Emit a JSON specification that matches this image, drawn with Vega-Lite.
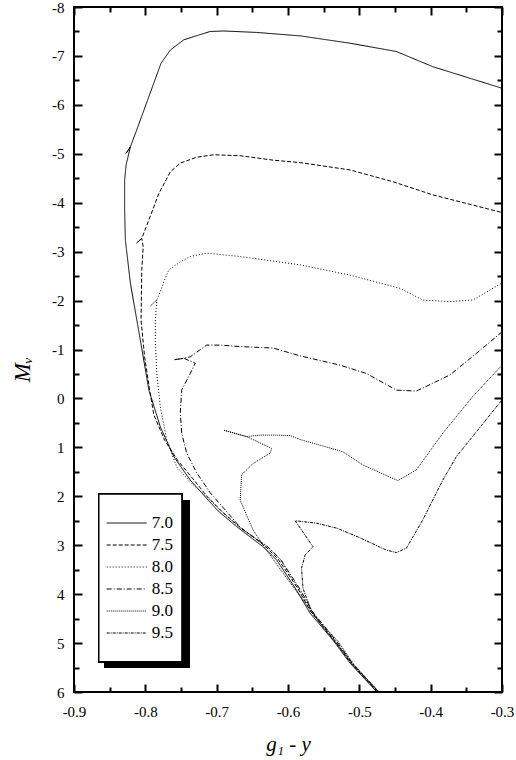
{
  "$schema": "https://vega.github.io/schema/vega-lite/v6.json",
  "width": 428,
  "height": 685,
  "autosize": "none",
  "padding": {"left": 74, "top": 7, "right": 14, "bottom": 68},
  "background": "white",
  "datasets": {
    "tracks": [
      {"age":"7.0","i":1,"x":-0.476,"y":5.99},{"age":"7.0","i":2,"x":-0.513,"y":5.41},{"age":"7.0","i":3,"x":-0.537,"y":4.94},{"age":"7.0","i":4,"x":-0.569,"y":4.39},{"age":"7.0","i":5,"x":-0.588,"y":3.92},{"age":"7.0","i":6,"x":-0.616,"y":3.30},{"age":"7.0","i":7,"x":-0.635,"y":3.03},{"age":"7.0","i":8,"x":-0.672,"y":2.62},{"age":"7.0","i":9,"x":-0.698,"y":2.30},{"age":"7.0","i":10,"x":-0.716,"y":2.01},{"age":"7.0","i":11,"x":-0.737,"y":1.67},{"age":"7.0","i":12,"x":-0.760,"y":1.19},{"age":"7.0","i":13,"x":-0.779,"y":0.58},{"age":"7.0","i":14,"x":-0.795,"y":-0.17},{"age":"7.0","i":15,"x":-0.807,"y":-1.19},{"age":"7.0","i":16,"x":-0.821,"y":-2.36},{"age":"7.0","i":17,"x":-0.828,"y":-3.24},{"age":"7.0","i":18,"x":-0.829,"y":-3.85},{"age":"7.0","i":19,"x":-0.829,"y":-4.46},{"age":"7.0","i":20,"x":-0.827,"y":-4.77},{"age":"7.0","i":21,"x":-0.821,"y":-5.14},{"age":"7.0","i":22,"x":-0.827,"y":-5.01},{"age":"7.0","i":23,"x":-0.821,"y":-5.14},{"age":"7.0","i":24,"x":-0.812,"y":-5.49},{"age":"7.0","i":25,"x":-0.778,"y":-6.85},{"age":"7.0","i":26,"x":-0.765,"y":-7.12},{"age":"7.0","i":27,"x":-0.746,"y":-7.33},{"age":"7.0","i":28,"x":-0.709,"y":-7.50},{"age":"7.0","i":29,"x":-0.690,"y":-7.51},{"age":"7.0","i":30,"x":-0.644,"y":-7.48},{"age":"7.0","i":31,"x":-0.583,"y":-7.41},{"age":"7.0","i":32,"x":-0.513,"y":-7.26},{"age":"7.0","i":33,"x":-0.448,"y":-7.09},{"age":"7.0","i":34,"x":-0.397,"y":-6.78},{"age":"7.0","i":35,"x":-0.300,"y":-6.34},

      {"age":"7.5","i":1,"x":-0.475,"y":5.99},{"age":"7.5","i":2,"x":-0.512,"y":5.41},{"age":"7.5","i":3,"x":-0.535,"y":4.94},{"age":"7.5","i":4,"x":-0.568,"y":4.36},{"age":"7.5","i":5,"x":-0.586,"y":3.89},{"age":"7.5","i":6,"x":-0.614,"y":3.28},{"age":"7.5","i":7,"x":-0.632,"y":3.02},{"age":"7.5","i":8,"x":-0.669,"y":2.61},{"age":"7.5","i":9,"x":-0.692,"y":2.32},{"age":"7.5","i":10,"x":-0.713,"y":2.01},{"age":"7.5","i":11,"x":-0.734,"y":1.63},{"age":"7.5","i":12,"x":-0.755,"y":1.26},{"age":"7.5","i":13,"x":-0.773,"y":0.85},{"age":"7.5","i":14,"x":-0.788,"y":0.34},{"age":"7.5","i":15,"x":-0.794,"y":-0.17},{"age":"7.5","i":16,"x":-0.801,"y":-0.85},{"age":"7.5","i":17,"x":-0.806,"y":-1.60},{"age":"7.5","i":18,"x":-0.805,"y":-2.63},{"age":"7.5","i":19,"x":-0.803,"y":-3.10},{"age":"7.5","i":20,"x":-0.805,"y":-3.27},{"age":"7.5","i":21,"x":-0.812,"y":-3.18},{"age":"7.5","i":22,"x":-0.805,"y":-3.27},{"age":"7.5","i":23,"x":-0.795,"y":-3.65},{"age":"7.5","i":24,"x":-0.781,"y":-4.19},{"age":"7.5","i":25,"x":-0.765,"y":-4.63},{"age":"7.5","i":26,"x":-0.751,"y":-4.81},{"age":"7.5","i":27,"x":-0.728,"y":-4.93},{"age":"7.5","i":28,"x":-0.704,"y":-4.98},{"age":"7.5","i":29,"x":-0.667,"y":-4.96},{"age":"7.5","i":30,"x":-0.621,"y":-4.87},{"age":"7.5","i":31,"x":-0.583,"y":-4.82},{"age":"7.5","i":32,"x":-0.513,"y":-4.67},{"age":"7.5","i":33,"x":-0.453,"y":-4.43},{"age":"7.5","i":34,"x":-0.397,"y":-4.16},{"age":"7.5","i":35,"x":-0.300,"y":-3.80},

      {"age":"8.0","i":1,"x":-0.474,"y":6.0},{"age":"8.0","i":2,"x":-0.510,"y":5.42},{"age":"8.0","i":3,"x":-0.534,"y":4.95},{"age":"8.0","i":4,"x":-0.566,"y":4.36},{"age":"8.0","i":5,"x":-0.585,"y":3.89},{"age":"8.0","i":6,"x":-0.611,"y":3.28},{"age":"8.0","i":7,"x":-0.629,"y":3.02},{"age":"8.0","i":8,"x":-0.667,"y":2.65},{"age":"8.0","i":9,"x":-0.691,"y":2.34},{"age":"8.0","i":10,"x":-0.709,"y":2.08},{"age":"8.0","i":11,"x":-0.734,"y":1.75},{"age":"8.0","i":12,"x":-0.756,"y":1.40},{"age":"8.0","i":13,"x":-0.770,"y":0.85},{"age":"8.0","i":14,"x":-0.779,"y":0.17},{"age":"8.0","i":15,"x":-0.784,"y":-0.52},{"age":"8.0","i":16,"x":-0.786,"y":-1.19},{"age":"8.0","i":17,"x":-0.786,"y":-1.60},{"age":"8.0","i":18,"x":-0.784,"y":-2.01},{"age":"8.0","i":19,"x":-0.793,"y":-1.89},{"age":"8.0","i":20,"x":-0.784,"y":-2.01},{"age":"8.0","i":21,"x":-0.779,"y":-2.18},{"age":"8.0","i":22,"x":-0.774,"y":-2.39},{"age":"8.0","i":23,"x":-0.767,"y":-2.63},{"age":"8.0","i":24,"x":-0.751,"y":-2.79},{"age":"8.0","i":25,"x":-0.737,"y":-2.90},{"age":"8.0","i":26,"x":-0.714,"y":-2.97},{"age":"8.0","i":27,"x":-0.667,"y":-2.90},{"age":"8.0","i":28,"x":-0.583,"y":-2.73},{"age":"8.0","i":29,"x":-0.513,"y":-2.52},{"age":"8.0","i":30,"x":-0.443,"y":-2.25},{"age":"8.0","i":31,"x":-0.411,"y":-2.01},{"age":"8.0","i":32,"x":-0.373,"y":-1.98},{"age":"8.0","i":33,"x":-0.341,"y":-2.01},{"age":"8.0","i":34,"x":-0.300,"y":-2.36},

      {"age":"8.5","i":1,"x":-0.473,"y":6.0},{"age":"8.5","i":2,"x":-0.509,"y":5.43},{"age":"8.5","i":3,"x":-0.532,"y":4.96},{"age":"8.5","i":4,"x":-0.565,"y":4.37},{"age":"8.5","i":5,"x":-0.583,"y":3.90},{"age":"8.5","i":6,"x":-0.610,"y":3.30},{"age":"8.5","i":7,"x":-0.628,"y":3.04},{"age":"8.5","i":8,"x":-0.666,"y":2.65},{"age":"8.5","i":9,"x":-0.688,"y":2.28},{"age":"8.5","i":10,"x":-0.709,"y":1.93},{"age":"8.5","i":11,"x":-0.728,"y":1.52},{"age":"8.5","i":12,"x":-0.742,"y":1.12},{"age":"8.5","i":13,"x":-0.749,"y":0.71},{"age":"8.5","i":14,"x":-0.751,"y":0.30},{"age":"8.5","i":15,"x":-0.749,"y":-0.17},{"age":"8.5","i":16,"x":-0.737,"y":-0.51},{"age":"8.5","i":17,"x":-0.730,"y":-0.72},{"age":"8.5","i":18,"x":-0.746,"y":-0.82},{"age":"8.5","i":19,"x":-0.760,"y":-0.79},{"age":"8.5","i":20,"x":-0.746,"y":-0.82},{"age":"8.5","i":21,"x":-0.737,"y":-0.85},{"age":"8.5","i":22,"x":-0.714,"y":-1.09},{"age":"8.5","i":23,"x":-0.695,"y":-1.09},{"age":"8.5","i":24,"x":-0.667,"y":-1.06},{"age":"8.5","i":25,"x":-0.621,"y":-1.03},{"age":"8.5","i":26,"x":-0.583,"y":-0.87},{"age":"8.5","i":27,"x":-0.527,"y":-0.68},{"age":"8.5","i":28,"x":-0.490,"y":-0.51},{"age":"8.5","i":29,"x":-0.448,"y":-0.17},{"age":"8.5","i":30,"x":-0.420,"y":-0.15},{"age":"8.5","i":31,"x":-0.373,"y":-0.48},{"age":"8.5","i":32,"x":-0.336,"y":-0.92},{"age":"8.5","i":33,"x":-0.300,"y":-1.36},

      {"age":"9.0","i":1,"x":-0.473,"y":6.0},{"age":"9.0","i":2,"x":-0.508,"y":5.43},{"age":"9.0","i":3,"x":-0.530,"y":4.96},{"age":"9.0","i":4,"x":-0.558,"y":4.53},{"age":"9.0","i":5,"x":-0.579,"y":4.12},{"age":"9.0","i":6,"x":-0.607,"y":3.57},{"age":"9.0","i":7,"x":-0.630,"y":3.10},{"age":"9.0","i":8,"x":-0.649,"y":2.69},{"age":"9.0","i":9,"x":-0.667,"y":2.08},{"age":"9.0","i":10,"x":-0.665,"y":1.56},{"age":"9.0","i":11,"x":-0.649,"y":1.33},{"age":"9.0","i":12,"x":-0.625,"y":1.12},{"age":"9.0","i":13,"x":-0.623,"y":1.02},{"age":"9.0","i":14,"x":-0.658,"y":0.78},{"age":"9.0","i":15,"x":-0.690,"y":0.65},{"age":"9.0","i":16,"x":-0.658,"y":0.78},{"age":"9.0","i":17,"x":-0.639,"y":0.75},{"age":"9.0","i":18,"x":-0.616,"y":0.75},{"age":"9.0","i":19,"x":-0.597,"y":0.76},{"age":"9.0","i":20,"x":-0.583,"y":0.84},{"age":"9.0","i":21,"x":-0.523,"y":1.09},{"age":"9.0","i":22,"x":-0.495,"y":1.36},{"age":"9.0","i":23,"x":-0.446,"y":1.68},{"age":"9.0","i":24,"x":-0.420,"y":1.46},{"age":"9.0","i":25,"x":-0.383,"y":0.71},{"age":"9.0","i":26,"x":-0.341,"y":-0.04},{"age":"9.0","i":27,"x":-0.300,"y":-0.68},

      {"age":"9.5","i":1,"x":-0.472,"y":6.0},{"age":"9.5","i":2,"x":-0.506,"y":5.49},{"age":"9.5","i":3,"x":-0.527,"y":5.10},{"age":"9.5","i":4,"x":-0.548,"y":4.73},{"age":"9.5","i":5,"x":-0.567,"y":4.36},{"age":"9.5","i":6,"x":-0.579,"y":3.88},{"age":"9.5","i":7,"x":-0.581,"y":3.47},{"age":"9.5","i":8,"x":-0.576,"y":3.20},{"age":"9.5","i":9,"x":-0.565,"y":3.03},{"age":"9.5","i":10,"x":-0.590,"y":2.50},{"age":"9.5","i":11,"x":-0.560,"y":2.55},{"age":"9.5","i":12,"x":-0.532,"y":2.65},{"age":"9.5","i":13,"x":-0.502,"y":2.83},{"age":"9.5","i":14,"x":-0.462,"y":3.10},{"age":"9.5","i":15,"x":-0.448,"y":3.15},{"age":"9.5","i":16,"x":-0.434,"y":3.06},{"age":"9.5","i":17,"x":-0.411,"y":2.48},{"age":"9.5","i":18,"x":-0.383,"y":1.67},{"age":"9.5","i":19,"x":-0.364,"y":1.19},{"age":"9.5","i":20,"x":-0.300,"y":0.03}
    ]
  },
  "data": {"name": "tracks"},
  "resolve": {"axis": {"x": "independent", "y": "independent"}},
  "layer": [
    {
      "mark": {"type": "rect", "fill": "black"},
      "encoding": {
        "x": {"datum": -0.8573, "type": "quantitative",
          "scale": {"domain": [-0.9, -0.3], "nice": false, "zero": false},
          "axis": {"orient": "top", "values": [-0.9,-0.8,-0.7,-0.6,-0.5,-0.4,-0.3], "offset": -8, "tickSize": 8, "tickColor": "black", "labels": false, "title": null}},
        "x2": {"datum": -0.7385},
        "y": {"datum": 2.076, "type": "quantitative",
          "scale": {"domain": [-8, 6], "nice": false, "zero": false, "reverse": true},
          "axis": {"orient": "right", "values": [-8,-7,-6,-5,-4,-3,-2,-1,0,1,2,3,4,5,6], "offset": -8, "tickSize": 8, "tickColor": "black", "labels": false, "title": null}},
        "y2": {"datum": 5.503}
      }
    },
    {
      "mark": {"type": "rect", "fill": "white", "stroke": "black", "strokeWidth": 1.5},
      "encoding": {
        "x": {"datum": -0.8653, "type": "quantitative",
          "axis": {"orient": "top", "values": [-0.85,-0.75,-0.65,-0.55,-0.45,-0.35], "offset": -5, "tickSize": 5, "tickColor": "black", "labels": false, "title": null}},
        "x2": {"datum": -0.7487},
        "y": {"datum": 1.953, "type": "quantitative",
          "axis": {"orient": "right", "values": [-7.5,-6.5,-5.5,-4.5,-3.5,-2.5,-1.5,-0.5,0.5,1.5,2.5,3.5,4.5,5.5], "offset": -5, "tickSize": 5, "tickColor": "black", "labels": false, "title": null}},
        "y2": {"datum": 5.38}
      }
    },
    {
      "transform": [{"filter": "datum.age === '7.0' || datum.age === '7.5' || datum.age === '8.0'"}],
      "mark": {"type": "line", "color": "black", "strokeWidth": 1, "clip": true},
      "encoding": {
        "x": {"field": "x", "type": "quantitative",
          "axis": {"orient": "bottom", "values": [-0.9,-0.8,-0.7,-0.6,-0.5,-0.4,-0.3], "offset": -8, "tickSize": 8, "tickColor": "black", "labelPadding": 12,
            "labelExpr": "'-' + format(abs(datum.value), '.1f')",
            "title": "g₁ - y", "titleY": 66, "titleBaseline": "alphabetic", "titleFontSize": 21}},
        "y": {"field": "y", "type": "quantitative",
          "axis": {"orient": "left", "values": [-8,-7,-6,-5,-4,-3,-2,-1,0,1,2,3,4,5,6], "offset": -8, "tickSize": 8, "tickColor": "black", "labelPadding": 10,
            "labelExpr": "(datum.value < 0 ? '-' : '') + abs(datum.value)",
            "title": "Mᵥ", "titleX": -53, "titleY": 362, "titleBaseline": "alphabetic", "titleAngle": -90, "titleFontSize": 23}},
        "strokeDash": {"field": "age", "type": "nominal",
          "scale": {"domain": ["7.0","7.5","8.0","8.5","9.0","9.5"], "range": [[1,0],[4,2],[1,2],[5,2,1,2],[1,1],[3,1,1,1]]},
          "legend": {"title": null, "symbolType": "M-4,0H4"}},
        "order": {"field": "i", "type": "quantitative"}
      }
    },
    {
      "transform": [{"filter": "datum.age === '8.5' || datum.age === '9.0' || datum.age === '9.5'"}],
      "mark": {"type": "line", "color": "black", "strokeWidth": 1, "clip": true},
      "encoding": {
        "x": {"field": "x", "type": "quantitative",
          "axis": {"orient": "bottom", "values": [-0.85,-0.75,-0.65,-0.55,-0.45,-0.35], "offset": -5, "tickSize": 5, "tickColor": "black", "labels": false, "title": null}},
        "y": {"field": "y", "type": "quantitative",
          "axis": {"orient": "left", "values": [-7.5,-6.5,-5.5,-4.5,-3.5,-2.5,-1.5,-0.5,0.5,1.5,2.5,3.5,4.5,5.5], "offset": -5, "tickSize": 5, "tickColor": "black", "labels": false, "title": null}},
        "strokeDash": {"field": "age", "type": "nominal",
          "scale": {"domain": ["7.0","7.5","8.0","8.5","9.0","9.5"], "range": [[1,0],[4,2],[1,2],[5,2,1,2],[1,1],[3,1,1,1]]},
          "legend": {"title": null, "symbolType": "M-4,0H4"}},
        "order": {"field": "i", "type": "quantitative"}
      }
    }
  ],
  "config": {
    "view": {"stroke": "black", "strokeWidth": 2},
    "axis": {
      "domain": false, "grid": false, "ticks": true,
      "labelFont": "Liberation Serif", "labelFontSize": 15, "labelColor": "black",
      "labelFlush": false, "labelOverlap": false,
      "tickWidth": 2,
      "titleFont": "Liberation Serif", "titleFontStyle": "italic", "titleFontWeight": "normal", "titleColor": "black"
    },
    "legend": {
      "orient": "none", "legendX": 32.7, "legendY": 507.5, "padding": 0,
      "symbolSize": 100, "symbolStrokeWidth": 1, "symbolStrokeColor": "black", "symbolOffset": 11.5,
      "labelOffset": 16.5, "labelFont": "Liberation Serif", "labelFontSize": 17, "labelColor": "black",
      "rowPadding": 4
    }
  }
}
